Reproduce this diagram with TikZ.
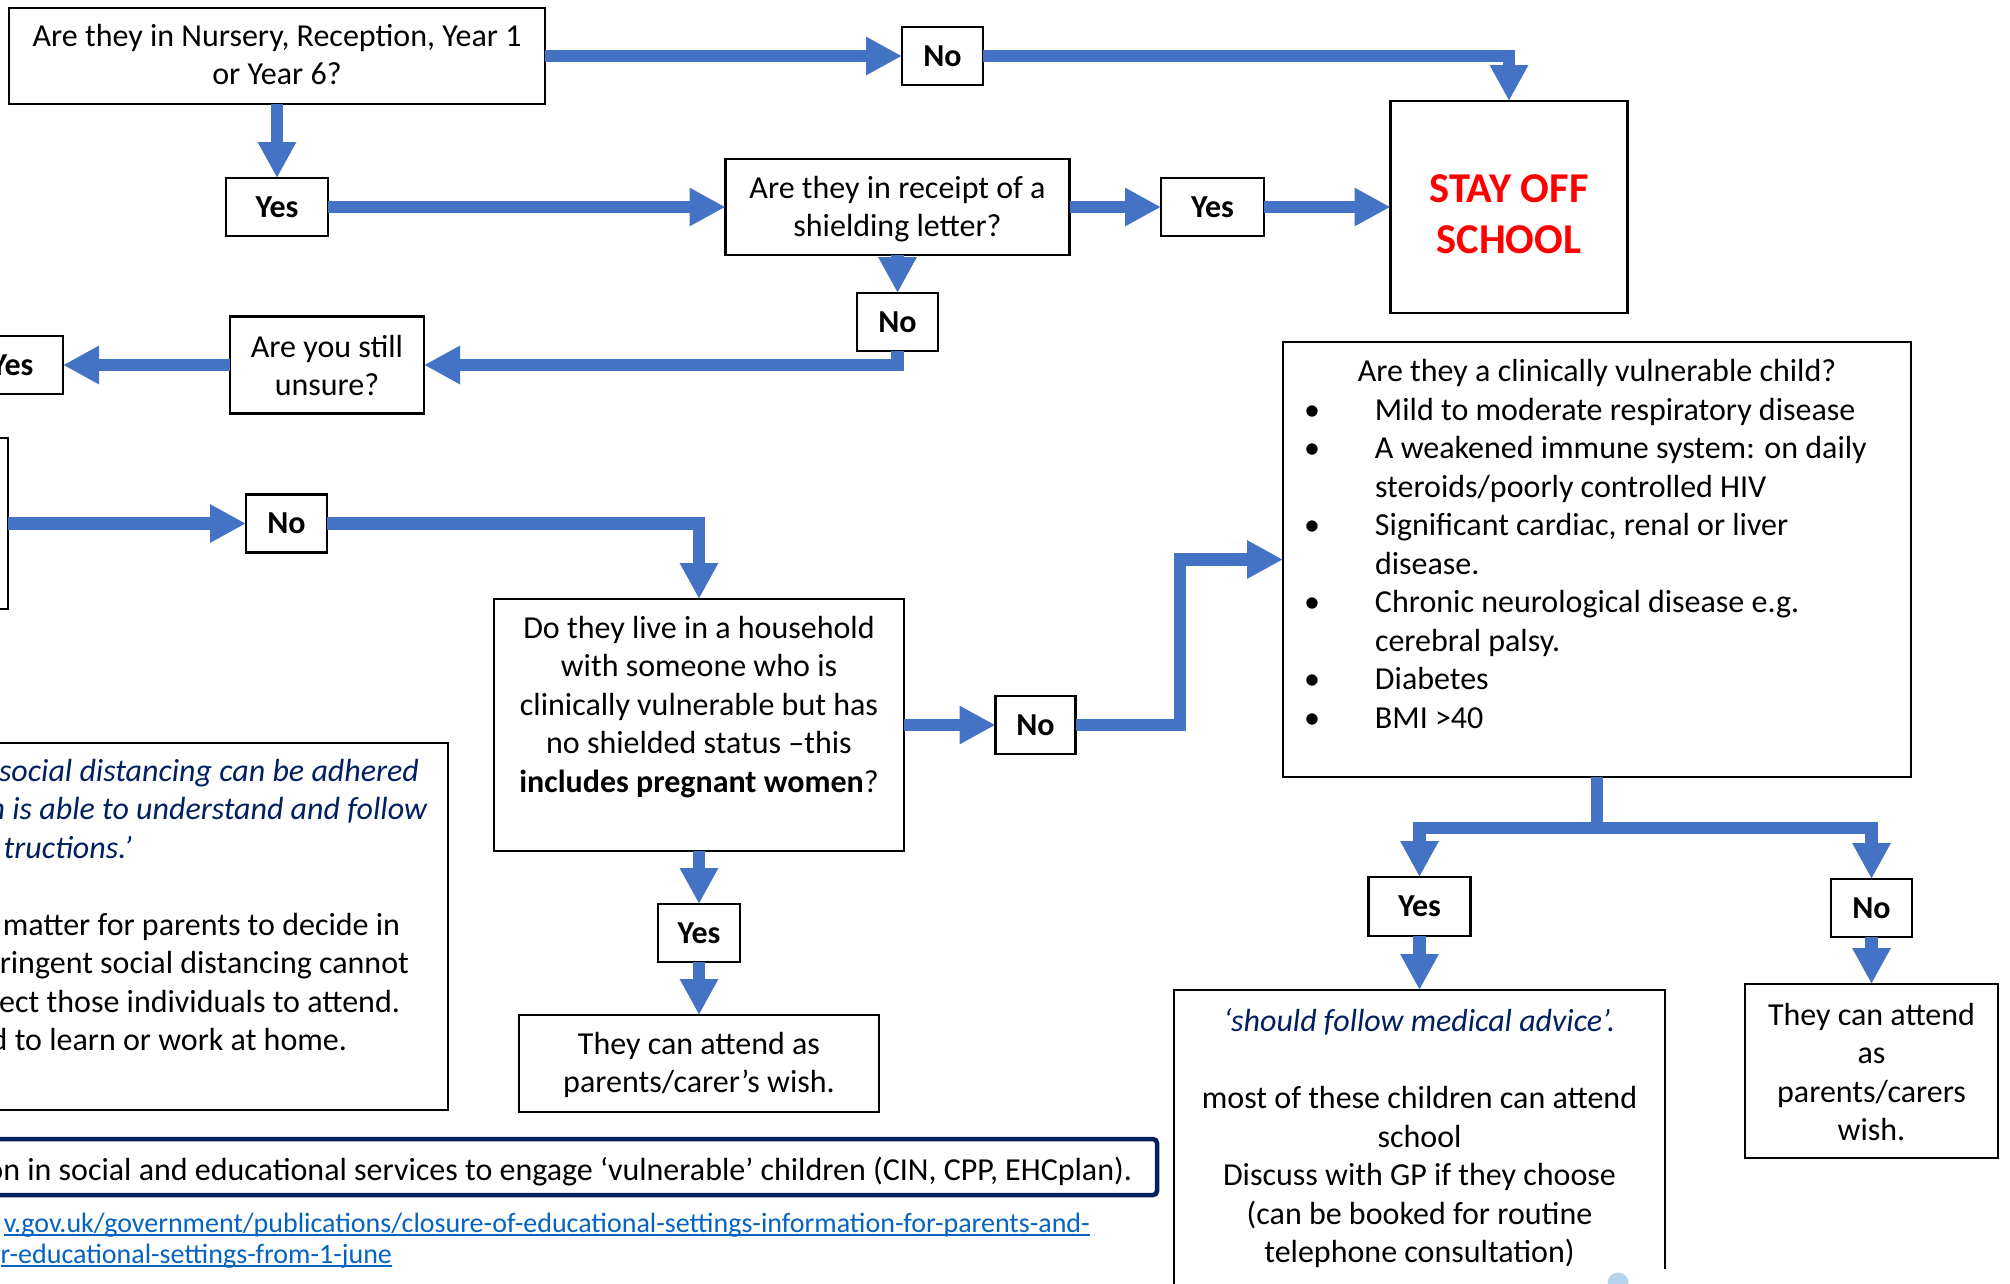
\documentclass[tikz,border=0pt]{standalone}
\usepackage{fontspec}
\setmainfont{Carlito}
\usetikzlibrary{arrows.meta}
\definecolor{flowblue}{HTML}{4472C4}
\definecolor{navy}{HTML}{002060}
\definecolor{linkblue}{HTML}{0563C1}
\definecolor{logoblue}{HTML}{B4D4EE}
\newcommand{\txtlines}[1]{\begin{tabular}[t]{@{}c@{}}#1\end{tabular}}
\newcommand{\mainsize}{\fontsize{32}{38.5}\selectfont}
\begin{document}
\begin{tikzpicture}[x=1pt,y=-1pt,
  every node/.style={font=\mainsize, inner sep=0pt, outer sep=0pt},
  box/.style={draw=black, line width=2.2pt, fill=white},
  ans/.style={box, font=\mainsize\bfseries, minimum width=81pt, minimum height=58pt},
  txt/.style={anchor=base},
  flow/.style={draw=flowblue, line width=12.5pt, line join=miter, -{Triangle[width=36pt,length=36pt]}},
  flowline/.style={draw=flowblue, line width=12.5pt, line join=miter},
]
\useasboundingbox (0,0) rectangle (2010,1283);
\clip (0,0) rectangle (2010,1283);
\fill[white] (0,0) rectangle (2010,1283);

% boxes
\node[box, minimum width=536pt, minimum height=96pt] (top) at (277,56) {};
\node[txt] (toptxt) at (277,46) {\txtlines{Are they in Nursery, Reception, Year 1\\or Year 6?}};
\node[ans] (no1) at (942.5,56) {No};
\node[box, minimum width=237pt, minimum height=212pt] (stay) at (1509,207) {};
\node[txt, text=red, font=\fontsize{42.5}{50.5}\selectfont\bfseries] (staytxt) at (1509,202.5) {\txtlines{STAY OFF\\SCHOOL}};
\node[ans, minimum width=102pt] (yes1) at (277,207) {Yes};
\node[box, minimum width=344pt, minimum height=96pt] (shield) at (897.5,207) {};
\node[txt] (shieldtxt) at (897.5,198) {\txtlines{Are they in receipt of a\\shielding letter?}};
\node[ans, minimum width=103pt] (yes2) at (1212.5,207) {Yes};
\node[ans] (no2) at (897.5,322) {No};
\node[box, minimum width=194pt, minimum height=97pt] (unsure) at (327,365) {};
\node[txt] (unsuretxt) at (327,357) {\txtlines{Are you still\\unsure?}};
\node[ans, minimum width=102pt] (yes3) at (12,365) {Yes};
\node[box, minimum width=200pt, minimum height=171pt] (leftq) at (-92,523.5) {};
\node[ans] (no3) at (286.5,523.5) {No};
\node[box, minimum width=410pt, minimum height=252pt] (hh) at (699,725) {};
\node[txt] (hhtxt) at (699,638) {\txtlines{Do they live in a household\\with someone who is\\clinically vulnerable but has\\no shielded status –this\\\textbf{includes pregnant women}?}};
\node[ans, minimum width=80pt] (no4) at (1035.5,725) {No};
\node[box, minimum width=628pt, minimum height=435pt] (clin) at (1597,559.5) {};
\node[txt] (clintitle) at (1597,381.5) {Are they a clinically vulnerable child?};
\node[anchor=base west] (clinlist) at (1304,420) {\begin{tabular}[t]{@{}p{71pt}@{}l@{}}
•&Mild to moderate respiratory disease\\
•&A weakened immune system: on daily\\
&steroids/poorly controlled HIV\\
•&Significant cardiac, renal or liver\\
&disease.\\
•&Chronic neurological disease e.g.\\
&cerebral palsy.\\
•&Diabetes\\
•&BMI >40
\end{tabular}};
\node[ans, minimum width=82pt] (yes5) at (699,933) {Yes};
\node[box, minimum width=360pt, minimum height=97pt] (att1) at (699,1063.5) {};
\node[txt] (att1txt) at (699,1054) {\txtlines{They can attend as\\parents/carer’s wish.}};

% left note box (cut off)
\node[box, minimum width=600pt, minimum height=367pt] (note) at (148,926.5) {};
\node[anchor=base east, text=navy, font=\mainsize\itshape] (nl1) at (419,781) {social distancing can be adhered};
\node[anchor=base east, text=navy, font=\mainsize\itshape] (nl2) at (427,819.5) {n is able to understand and follow};
\node[anchor=base east, text=navy, font=\mainsize\itshape] (nl3) at (132,858) {tructions.’};
\node[anchor=base east] (nl4) at (400,935) {matter for parents to decide in};
\node[anchor=base east] (nl5) at (409,973.5) {ringent social distancing cannot};
\node[anchor=base east] (nl6) at (400,1012) {ect those individuals to attend.};
\node[anchor=base east] (nl7) at (347,1050.5) {d to learn or work at home.};

% bottom banner
\node[draw=navy, line width=4.5pt, rounded corners=4pt, fill=white, minimum width=1300pt, minimum height=56pt] (vuln) at (507,1167) {};
\node[anchor=base east] (vulntxt) at (1132,1180) {on in social and educational services to engage ‘vulnerable’ children (CIN, CPP, EHCplan).};
\node[anchor=base east, text=linkblue, font=\fontsize{28}{33}\selectfont] (lk1) at (1090,1232) {v.gov.uk/government/publications/closure-of-educational-settings-information-for-parents-and-};
\node[anchor=base east, text=linkblue, font=\fontsize{28}{33}\selectfont] (lk2) at (392,1263) {r-educational-settings-from-1-june};
\draw[linkblue, line width=1.5pt] ([yshift=-3pt]lk1.base west) -- ([yshift=-3pt]lk1.base east);
\draw[linkblue, line width=1.5pt] ([yshift=-3pt]lk2.base west) -- ([yshift=-3pt]lk2.base east);

% right bottom
\node[ans, minimum width=102pt, minimum height=59pt] (yes6) at (1419.5,906.5) {Yes};
\node[ans] (no6) at (1871.5,908) {No};
\node[box, minimum width=491pt, minimum height=320pt] (adv) at (1419.5,1150) {};
\node[txt] (advtxt) at (1419.5,1031.5) {\txtlines{\textcolor{navy}{\itshape ‘should follow medical advice’.}\\ \\most of these children can attend\\school\\Discuss with GP if they choose\\(can be booked for routine\\telephone consultation)}};
\node[box, minimum width=253pt, minimum height=174pt] (att2) at (1871.5,1071) {};
\node[txt] (att2txt) at (1871.5,1025) {\txtlines{They can attend\\as\\parents/carers\\wish.}};
\fill[white] (1590,1269) rectangle (2010,1290);
\fill[logoblue] (1618,1283) circle (10.5);

% connectors
\draw[flow] (top.east) -- (no1.west);
\draw[flow] (no1.east) -| (stay.north);
\draw[flow] (top.south) -- (yes1.north);
\draw[flow] (yes1.east) -- (shield.west);
\draw[flow] (shield.east) -- (yes2.west);
\draw[flow] (yes2.east) -- (stay.west);
\draw[flow] (shield.south) -- (no2.north);
\draw[flow] (no2.south) |- (unsure.east);
\draw[flow] (unsure.west) -- (yes3.east);
\draw[flow] (leftq.east) -- (no3.west);
\draw[flow] (no3.east) -| (hh.north);
\draw[flow] (hh.east) -- (no4.west);
\coordinate (bend) at (1180,559.5);
\draw[flow] (no4.east) -| (bend) -- (clin.west);
\draw[flow] (hh.south) -- (yes5.north);
\draw[flow] (yes5.south) -- (att1.north);
\coordinate (split) at (1597,828);
\draw[flowline] (clin.south) -- (split);
\draw[flow] (split) -| (yes6.north);
\draw[flow] (split) -| (no6.north);
\draw[flow] (yes6.south) -- (adv.north);
\draw[flow] (no6.south) -- (att2.north);
\end{tikzpicture}
\end{document}
